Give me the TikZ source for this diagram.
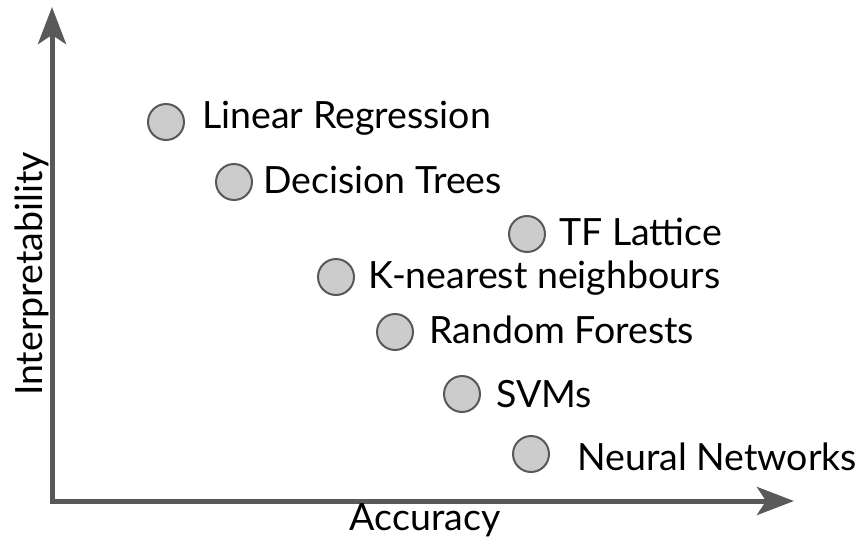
\documentclass[tikz,border=0pt]{standalone}
\usepackage{fontspec}
\setmainfont{Lato}
\usetikzlibrary{arrows.meta}
\definecolor{axisgray}{HTML}{595959}
\definecolor{dotfill}{HTML}{CCCCCC}
\tikzset{
  dot/.style={circle, draw=axisgray, fill=dotfill, line width=2pt, minimum size=36pt, inner sep=0pt},
  lbl/.style={anchor=base west, inner sep=0pt, font=\fontsize{37.5}{44}\selectfont, text=black},
  axislbl/.style={anchor=base, inner sep=0pt, font=\fontsize{37.5}{44}\selectfont, text=black},
  axis/.style={draw=axisgray, line width=5pt, line join=miter,
    {Stealth[length=37pt,width=28pt,inset=9pt]}-{Stealth[length=37pt,width=28pt,inset=9pt]}}
}
\begin{document}
\begin{tikzpicture}[x=1pt,y=-1pt]
  \useasboundingbox (0,0) rectangle (862,544);
  % axes
  \coordinate (ytip) at (52,7);
  \coordinate (origin) at (52,501);
  \coordinate (xtip) at (794,501);
  \draw[axis] (ytip) -- (origin) -- (xtip);
  \node[axislbl] (xlabel) at (425,530) {Accuracy};
  \node[axislbl, rotate=90] (ylabel) at (42,274) {Interpretability};
  % methods
  \node[dot] (lr) at (166,122) {};
  \node[lbl] (lrt) at (202,128) {Linear Regression};
  \node[dot] (dt) at (234,182) {};
  \node[lbl] (dtt) at (263,193) {Decision Trees};
  \node[dot] (tf) at (527,234) {};
  \node[lbl] (tft) at (559,245) {TF Lattice};
  \node[dot] (knn) at (336,277) {};
  \node[lbl] (knnt) at (368,288) {K-nearest neighbours};
  \node[dot] (rf) at (395,332) {};
  \node[lbl] (rft) at (429,343) {Random Forests};
  \node[dot] (svm) at (462,394) {};
  \node[lbl] (svmt) at (496,407) {SVMs};
  \node[dot] (nn) at (531,454) {};
  \node[lbl] (nnt) at (577,470) {Neural Networks};
\end{tikzpicture}
\end{document}
